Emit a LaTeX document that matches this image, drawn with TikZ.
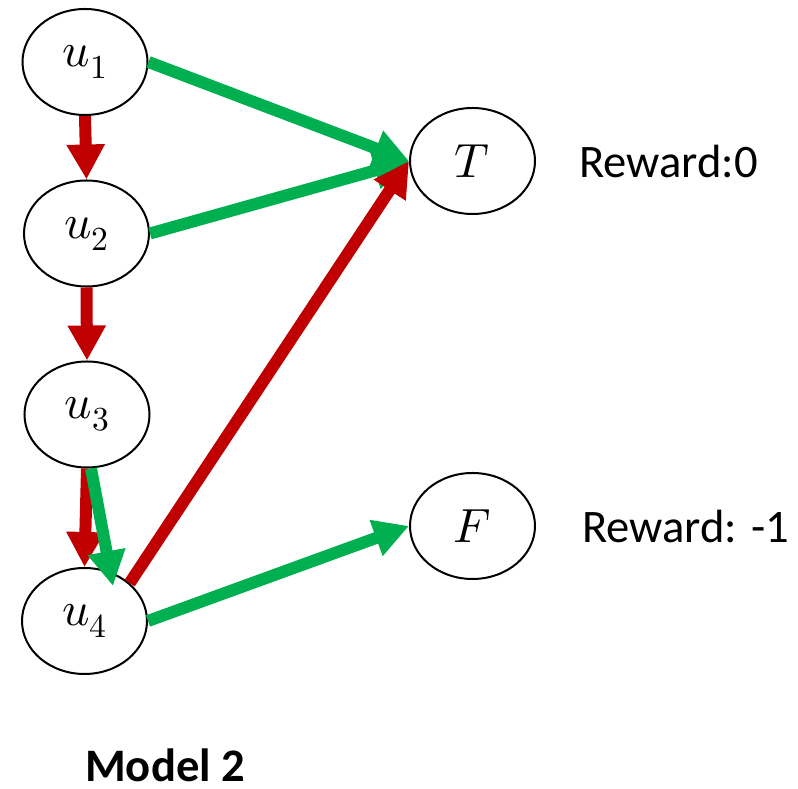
\documentclass[tikz,border=0pt]{standalone}
\usepackage{fontspec}
\usepackage{unicode-math}
\setmainfont{Carlito}
\setmathfont{Latin Modern Math}
\usetikzlibrary{arrows.meta,shapes.geometric}
\definecolor{myred}{HTML}{C00000}
\definecolor{mygreen}{HTML}{00B050}
\begin{document}
\begin{tikzpicture}[x=1pt,y=1pt,
  state/.style={draw=black,line width=2pt,ellipse,minimum width=125pt,minimum height=106pt,inner sep=0pt,font=\fontsize{48}{48}\selectfont},
  redarr/.style={draw=myred,line width=12pt,-{Triangle[length=35pt,width=36pt]},myred},
  greenarr/.style={draw=mygreen,line width=12pt,-{Triangle[length=35pt,width=36pt]},mygreen},
  lbl/.style={anchor=base west,inner sep=0pt,font=\fontsize{46.6}{50}\selectfont}]
\useasboundingbox (0,0) rectangle (798,789);
\node[state] (u1) at (85,727) {$u_1$};
\node[state] (u2) at (86.5,555.5) {$u_2$};
\node[state] (u3) at (87,374.5) {$u_3$};
\node[state] (u4) at (84.5,168) {$u_4$};
\node[state] (T) at (472.5,628) {$T$};
\node[state] (F) at (472.5,263) {$F$};
\node[lbl] (r0) at (579,611) {Reward:0};
\node[lbl] (r1) at (582,246) {Reward: -1};
\node[lbl,font=\fontsize{46.6}{50}\selectfont\bfseries] (m2) at (85,7) {Model 2};
\coordinate (g34s) at ([xshift=4pt]u3.south);
\coordinate (g34e) at ([shift={(28.5pt,35pt)}]u4.center);
\draw[redarr] (u1.south) -- (u2.north);
\draw[redarr] (u2.south) -- (u3.north);
\draw[greenarr] (u1.east) -- (T.west);
\draw[greenarr] (u2.east) -- (T.west);
\draw[redarr] (u4.40) -- (T.west);
\draw[greenarr] (u4.east) -- (F.west);
\draw[redarr] (u3.south) -- (u4.north);
\draw[greenarr] (g34s) -- (g34e);
\end{tikzpicture}
\end{document}
